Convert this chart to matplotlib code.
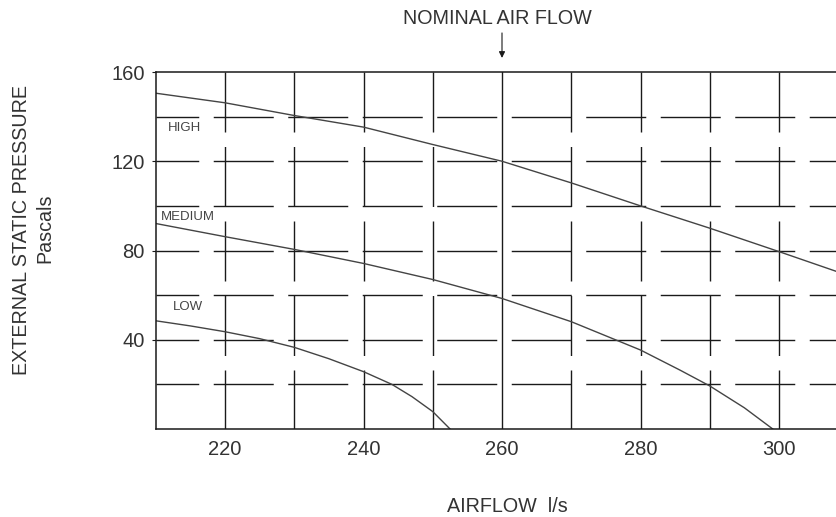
import matplotlib
matplotlib.use("Agg")
import matplotlib.pyplot as plt

plt.rcParams['font.family'] = ['Liberation Sans', 'DejaVu Sans']
plt.rcParams['lines.scale_dashes'] = False

# Data
high_x = [210, 220, 230, 240, 250, 260, 270, 280, 290, 300, 310]
high_y = [150.5, 146.2, 140.5, 135.3, 127.5, 120, 110.3, 100, 90, 79.5, 68.8]
med_x = [210, 220, 230, 240, 250, 260, 270, 280, 285.7, 290, 295, 299.1]
med_y = [92.1, 86.2, 80.5, 74.2, 67.0, 58.5, 48.1, 35.4, 26.4, 19.3, 9.5, 0]
low_x = [210, 215, 220, 225, 230, 235, 240, 244.1, 247, 250, 252.5]
low_y = [48.5, 46.2, 43.6, 40.5, 36.6, 31.5, 25.7, 20, 14.5, 7.8, 0]
x_ticks = [220, 240, 260, 280, 300]
y_ticks = [40, 80, 120, 160]
v_grid = [220, 230, 240, 250, 270, 280, 290, 300]
h_grid = [20, 40, 60, 80, 100, 120, 140]
nominal = 260
curve_labels = [("HIGH", 214.15, 134.9), ("MEDIUM", 214.65, 95.0), ("LOW", 214.6, 54.7)]

W, H = 837, 517
fig = plt.figure(figsize=(W / 100, H / 100), dpi=100)
left_px, top_px, bot_px = 155.75, 72, 429
ax = fig.add_axes([left_px / W, (H - bot_px) / H, 692.5 / W, (bot_px - top_px) / H])
ax.set_xlim(210, 310)
ax.set_ylim(0, 160)

ink = '#1a1a1a'
px = 0.72  # points per pixel
dash = (0, (60 * px, 14.5 * px))
for x in v_grid:
    ax.plot([x, x], [160, 0], color=ink, lw=1.0, linestyle=dash, zorder=1)
ax.plot([nominal, nominal], [160, 0], color=ink, lw=1.0, zorder=1)
hdash = (17.25 * px, (60 * px, 14.5 * px))
for y in h_grid:
    ax.plot([210, 310], [y, y], color=ink, lw=1.0, linestyle=hdash, zorder=1)

curve_color = '#444444'
for xs, ys in [(high_x, high_y), (med_x, med_y), (low_x, low_y)]:
    ax.plot(xs, ys, color=curve_color, lw=1.0, zorder=2)

for txt, x, y in curve_labels:
    ax.text(x, y, txt, fontsize=9.5, color='#444444', ha='center', va='center')

for s in ['left', 'top', 'bottom']:
    ax.spines[s].set_linewidth(1.1)
    ax.spines[s].set_color(ink)
ax.spines['right'].set_visible(False)

ax.set_xticks(x_ticks)
ax.set_yticks(y_ticks)
ax.set_xticklabels([str(v) for v in x_ticks])
ax.set_yticklabels([str(v) for v in y_ticks])
ax.tick_params(axis='both', labelsize=14.5, colors=ink, labelcolor='#333333',
               length=3, width=0.8, direction='out')
ax.tick_params(axis='x', pad=8, length=0)
ax.tick_params(axis='y', pad=5)

# Nominal air flow annotation
ax.annotate('', xy=(nominal, 166.3), xytext=(nominal, 177.5),
            arrowprops=dict(arrowstyle='-|>', color=ink, lw=0.8,
                            mutation_scale=9, shrinkA=0, shrinkB=0),
            annotation_clip=False)
fig.text(497 / W, 1 - 19 / H, 'NOMINAL AIR FLOW', fontsize=14.2,
         color='#333333', ha='center', va='center')

fig.text(507 / W, 1 - 507 / H, 'AIRFLOW  l/s', fontsize=14.2,
         color='#333333', ha='center', va='center')
fig.text(22 / W, 1 - 230 / H, 'EXTERNAL STATIC PRESSURE', fontsize=14.2,
         color='#333333', ha='center', va='center', rotation=90)
fig.text(45 / W, 1 - 228 / H, 'Pascals', fontsize=14.2,
         color='#333333', ha='center', va='center', rotation=90)

fig.savefig('out.png', dpi=100, facecolor='white')
